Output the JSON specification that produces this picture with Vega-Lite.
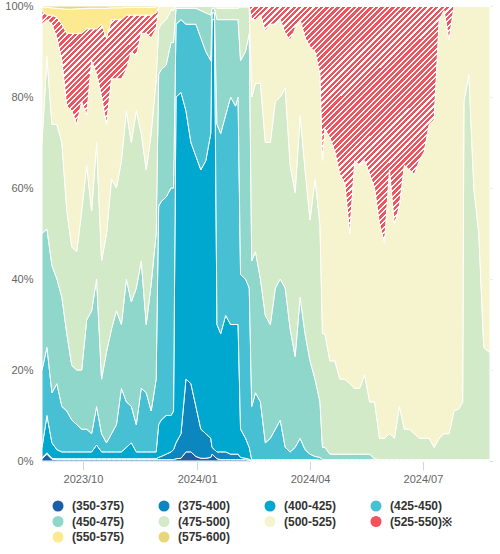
{
"$schema":"https://vega.github.io/schema/vega-lite/v6.json",
"width":450,"height":455,"autosize":"none",
"padding":{"left":42,"top":6,"right":8,"bottom":93},
"background":"white",
"config":{"view":{"stroke":null},"font":"Liberation Sans"},
"data":{"values":[
{"date":"2023-08-29","r350":0.5,"r375":0.2,"r400":2.3,"r425":17,"r450":30,"r475":20,"r500":26,"r525":3,"r550":0.8,"r575":0.2},
{"date":"2023-09-02","r350":1.5,"r375":0.3,"r400":8.2,"r425":15,"r450":26,"r475":38,"r500":8,"r525":1,"r550":1.7,"r575":0.3},
{"date":"2023-09-06","r350":0.4,"r375":0.2,"r400":3.4,"r425":11,"r450":28,"r475":31,"r500":22,"r525":2,"r550":1.6,"r575":0.4},
{"date":"2023-09-10","r350":0.3,"r375":0.2,"r400":2,"r425":14.5,"r450":23,"r475":34,"r500":19,"r525":4.5,"r550":2,"r575":0.5},
{"date":"2023-09-14","r350":0.3,"r375":0.2,"r400":1.5,"r425":10,"r450":24,"r475":34,"r500":18,"r525":8,"r550":3.4,"r575":0.6},
{"date":"2023-09-18","r350":0.3,"r375":0.2,"r400":1.5,"r425":9,"r450":17,"r475":27,"r500":23,"r525":16,"r550":5.3,"r575":0.7},
{"date":"2023-09-22","r350":0.3,"r375":0.2,"r400":1.5,"r425":7,"r450":12,"r475":26,"r500":30,"r525":17,"r550":5.3,"r575":0.7},
{"date":"2023-09-26","r350":0.3,"r375":0.2,"r400":1.5,"r425":6,"r450":12,"r475":26,"r500":28,"r525":20,"r550":5.4,"r575":0.6},
{"date":"2023-09-30","r350":0.3,"r375":0.2,"r400":1.5,"r425":5,"r450":13,"r475":35,"r500":24,"r525":15,"r550":5.4,"r575":0.6},
{"date":"2023-10-04","r350":0.3,"r375":0.2,"r400":1.5,"r425":5,"r450":24,"r475":34,"r500":11,"r525":19,"r550":4.5,"r575":0.5},
{"date":"2023-10-08","r350":0.3,"r375":0.2,"r400":1.5,"r425":4,"r450":27,"r475":22,"r500":33,"r525":7,"r550":4.5,"r575":0.5},
{"date":"2023-10-12","r350":0.3,"r375":0.2,"r400":3,"r425":8.5,"r450":28,"r475":30,"r500":15,"r525":10,"r550":4.5,"r575":0.5},
{"date":"2023-10-16","r350":0.3,"r375":0.2,"r400":1.5,"r425":4,"r450":12,"r475":26,"r500":36,"r525":16,"r550":3.5,"r575":0.5},
{"date":"2023-10-20","r350":0.3,"r375":0.2,"r400":1.5,"r425":2,"r450":20,"r475":26,"r500":24,"r525":19,"r550":6.5,"r575":0.5},
{"date":"2023-10-24","r350":0.3,"r375":0.2,"r400":1.5,"r425":4,"r450":23,"r475":33,"r500":22,"r525":13,"r550":2.6,"r575":0.4},
{"date":"2023-10-28","r350":0.3,"r375":0.2,"r400":1.5,"r425":6,"r450":25,"r475":27,"r500":24,"r525":13,"r550":2.6,"r575":0.4},
{"date":"2023-11-01","r350":0.3,"r375":0.2,"r400":1.5,"r425":14,"r450":14,"r475":36,"r500":18,"r525":13,"r550":2.6,"r575":0.4},
{"date":"2023-11-05","r350":0.3,"r375":0.2,"r400":2.5,"r425":10,"r450":27,"r475":37,"r500":9,"r525":12,"r550":1.7,"r575":0.3},
{"date":"2023-11-09","r350":0.3,"r375":0.2,"r400":3.5,"r425":8,"r450":23,"r475":35,"r500":20,"r525":8,"r550":1.7,"r575":0.3},
{"date":"2023-11-13","r350":0.3,"r375":0.2,"r400":1.5,"r425":6,"r450":30,"r475":39,"r500":12,"r525":9,"r550":1.7,"r575":0.3},
{"date":"2023-11-17","r350":0.3,"r375":0.2,"r400":1.5,"r425":14,"r450":28,"r475":28,"r500":22,"r525":4,"r550":1.7,"r575":0.3},
{"date":"2023-11-21","r350":0.3,"r375":0.2,"r400":1.5,"r425":13,"r450":15,"r475":34,"r500":30,"r525":4,"r550":1.7,"r575":0.3},
{"date":"2023-11-25","r350":0.3,"r375":0.2,"r400":1.5,"r425":9,"r450":28,"r475":33,"r500":21,"r525":5,"r550":1.7,"r575":0.3},
{"date":"2023-11-29","r350":0.3,"r375":0.2,"r400":1.5,"r425":16,"r450":32,"r475":34,"r500":11,"r525":3.5,"r550":1.3,"r575":0.2},
{"date":"2023-12-01","r350":0.3,"r375":0.5,"r400":7.2,"r425":48,"r450":29,"r475":10,"r500":4.5,"r525":0.2,"r550":0.3,"r575":0},
{"date":"2023-12-03","r350":0.3,"r375":0.7,"r400":8,"r425":48,"r450":29,"r475":10,"r500":4,"r525":0,"r550":0,"r575":0},
{"date":"2023-12-07","r350":0.3,"r375":1.2,"r400":8.5,"r425":48,"r450":29,"r475":10,"r500":3,"r525":0,"r550":0,"r575":0},
{"date":"2023-12-11","r350":0.3,"r375":1.7,"r400":8,"r425":50,"r450":32,"r475":7,"r500":1,"r525":0,"r550":0,"r575":0},
{"date":"2023-12-13","r350":0.3,"r375":2.2,"r400":8.5,"r425":49,"r450":32,"r475":7,"r500":1,"r525":0,"r550":0,"r575":0},
{"date":"2023-12-15","r350":0.5,"r375":3.5,"r400":76,"r425":16,"r450":3.5,"r475":0.5,"r500":0,"r525":0,"r550":0,"r575":0},
{"date":"2023-12-19","r350":0.6,"r375":5.4,"r400":75,"r425":16,"r450":2.5,"r475":0.5,"r500":0,"r525":0,"r550":0,"r575":0},
{"date":"2023-12-23","r350":2,"r375":16,"r400":59,"r425":19,"r450":3.5,"r475":0.5,"r500":0,"r525":0,"r550":0,"r575":0},
{"date":"2023-12-27","r350":2,"r375":15,"r400":53,"r425":26,"r450":3.5,"r475":0.5,"r500":0,"r525":0,"r550":0,"r575":0},
{"date":"2023-12-31","r350":1,"r375":11,"r400":55,"r425":29,"r450":3.5,"r475":0.5,"r500":0,"r525":0,"r550":0,"r575":0},
{"date":"2024-01-04","r350":0.6,"r375":6.4,"r400":57,"r425":29,"r450":6,"r475":1,"r500":0,"r525":0,"r550":0,"r575":0},
{"date":"2024-01-08","r350":0.6,"r375":5.4,"r400":60,"r425":24,"r450":8.5,"r475":1.5,"r500":0,"r525":0,"r550":0,"r575":0},
{"date":"2024-01-12","r350":0.8,"r375":4.2,"r400":67,"r425":16,"r450":10,"r475":2,"r500":0,"r525":0,"r550":0,"r575":0},
{"date":"2024-01-13","r350":1.5,"r375":1.5,"r400":94,"r425":1.5,"r450":1,"r475":0.5,"r500":0,"r525":0,"r550":0,"r575":0},
{"date":"2024-01-15","r350":1,"r375":1.5,"r400":94.5,"r425":1.5,"r450":1,"r475":0.5,"r500":0,"r525":0,"r550":0,"r575":0},
{"date":"2024-01-17","r350":0.5,"r375":1.5,"r400":28,"r425":44,"r450":23,"r475":2.5,"r500":0.5,"r525":0,"r550":0,"r575":0},
{"date":"2024-01-20","r350":0.3,"r375":1.7,"r400":26,"r425":44,"r450":25,"r475":2.5,"r500":0.5,"r525":0,"r550":0,"r575":0},
{"date":"2024-01-24","r350":0.3,"r375":1.7,"r400":30,"r425":44,"r450":21,"r475":2.5,"r500":0.5,"r525":0,"r550":0,"r575":0},
{"date":"2024-01-28","r350":0.3,"r375":1.2,"r400":28.5,"r425":50,"r450":17,"r475":2.5,"r500":0.5,"r525":0,"r550":0,"r575":0},
{"date":"2024-02-01","r350":0.3,"r375":1.2,"r400":28.5,"r425":48,"r450":19,"r475":2.5,"r500":0.5,"r525":0,"r550":0,"r575":0},
{"date":"2024-02-03","r350":0.3,"r375":1.2,"r400":28.5,"r425":50,"r450":17,"r475":2.5,"r500":0.5,"r525":0,"r550":0,"r575":0},
{"date":"2024-02-05","r350":0.3,"r375":0.5,"r400":6.2,"r425":34,"r450":47,"r475":11.8,"r500":0.2,"r525":0,"r550":0,"r575":0},
{"date":"2024-02-09","r350":0.3,"r375":0.3,"r400":4.4,"r425":35,"r450":50,"r475":9.8,"r500":0.2,"r525":0,"r550":0,"r575":0},
{"date":"2024-02-12","r350":0.2,"r375":0.2,"r400":2.6,"r425":35,"r450":56,"r475":5.8,"r500":0.2,"r525":0,"r550":0,"r575":0},
{"date":"2024-02-14","r350":0,"r375":0.1,"r400":0.2,"r425":11.7,"r450":32,"r475":36,"r500":17,"r525":3,"r550":0,"r575":0},
{"date":"2024-02-17","r350":0,"r375":0.1,"r400":0.2,"r425":14.7,"r450":31,"r475":37,"r500":14,"r525":3,"r550":0,"r575":0},
{"date":"2024-02-21","r350":0,"r375":0.1,"r400":0.2,"r425":12.7,"r450":27,"r475":43,"r500":15,"r525":2,"r550":0,"r575":0},
{"date":"2024-02-25","r350":0,"r375":0.1,"r400":0.2,"r425":3.7,"r450":28,"r475":38,"r500":24.5,"r525":5.5,"r550":0,"r575":0},
{"date":"2024-02-29","r350":0,"r375":0.1,"r400":0.2,"r425":4.7,"r450":25,"r475":40,"r500":26,"r525":4,"r550":0,"r575":0},
{"date":"2024-03-04","r350":0,"r375":0.1,"r400":0.2,"r425":6.7,"r450":31,"r475":41,"r500":17,"r525":4,"r550":0,"r575":0},
{"date":"2024-03-08","r350":0,"r375":0.1,"r400":0.2,"r425":8.7,"r450":31,"r475":40,"r500":17,"r525":3,"r550":0,"r575":0},
{"date":"2024-03-12","r350":0,"r375":0.1,"r400":0.2,"r425":2.7,"r450":35,"r475":44,"r500":12,"r525":6,"r550":0,"r575":0},
{"date":"2024-03-16","r350":0,"r375":0.1,"r400":0.2,"r425":1.7,"r450":27,"r475":36,"r500":27.5,"r525":7.5,"r550":0,"r575":0},
{"date":"2024-03-20","r350":0,"r375":0.1,"r400":0.2,"r425":2.7,"r450":20,"r475":36,"r500":36,"r525":5,"r550":0,"r575":0},
{"date":"2024-03-24","r350":0,"r375":0.1,"r400":0.2,"r425":4.7,"r450":31,"r475":40,"r500":21,"r525":3,"r550":0,"r575":0},
{"date":"2024-03-28","r350":0,"r375":0.1,"r400":0.2,"r425":2.2,"r450":25.5,"r475":36,"r500":29,"r525":7,"r550":0,"r575":0},
{"date":"2024-04-01","r350":0,"r375":0.1,"r400":0.2,"r425":1.2,"r450":20.5,"r475":31,"r500":38,"r525":9,"r550":0,"r575":0},
{"date":"2024-04-05","r350":0,"r375":0.1,"r400":0.2,"r425":0.7,"r450":17,"r475":44,"r500":28,"r525":10,"r550":0,"r575":0},
{"date":"2024-04-09","r350":0,"r375":0,"r400":0.2,"r425":0.6,"r450":12.2,"r475":39,"r500":33,"r525":15,"r550":0,"r575":0},
{"date":"2024-04-11","r350":0,"r375":0,"r400":0.1,"r425":0.2,"r450":2.7,"r475":25,"r500":38,"r525":34,"r550":0,"r575":0},
{"date":"2024-04-13","r350":0,"r375":0,"r400":0.1,"r425":0.2,"r450":2.7,"r475":25,"r500":45,"r525":27,"r550":0,"r575":0},
{"date":"2024-04-17","r350":0,"r375":0,"r400":0.1,"r425":0.2,"r450":1.2,"r475":20.5,"r500":49,"r525":29,"r550":0,"r575":0},
{"date":"2024-04-21","r350":0,"r375":0,"r400":0.1,"r425":0.2,"r450":1.2,"r475":20.5,"r500":46,"r525":32,"r550":0,"r575":0},
{"date":"2024-04-25","r350":0,"r375":0,"r400":0.1,"r425":0.2,"r450":1.2,"r475":16.5,"r500":45,"r525":37,"r550":0,"r575":0},
{"date":"2024-04-29","r350":0,"r375":0,"r400":0.1,"r425":0.2,"r450":1.2,"r475":16.5,"r500":43,"r525":39,"r550":0,"r575":0},
{"date":"2024-05-03","r350":0,"r375":0,"r400":0.1,"r425":0.2,"r450":1.2,"r475":15.5,"r500":33,"r525":50,"r550":0,"r575":0},
{"date":"2024-05-07","r350":0,"r375":0,"r400":0.1,"r425":0.2,"r450":1.2,"r475":14.5,"r500":50,"r525":34,"r550":0,"r575":0},
{"date":"2024-05-11","r350":0,"r375":0,"r400":0.1,"r425":0.2,"r450":1.2,"r475":14.5,"r500":49,"r525":35,"r550":0,"r575":0},
{"date":"2024-05-15","r350":0,"r375":0,"r400":0.1,"r425":0.2,"r450":1.2,"r475":17.5,"r500":47,"r525":34,"r550":0,"r575":0},
{"date":"2024-05-19","r350":0,"r375":0,"r400":0.1,"r425":0.2,"r450":1.2,"r475":11.5,"r500":50,"r525":37,"r550":0,"r575":0},
{"date":"2024-05-23","r350":0,"r375":0,"r400":0.1,"r425":0.2,"r450":0.2,"r475":12.5,"r500":47,"r525":40,"r550":0,"r575":0},
{"date":"2024-05-27","r350":0,"r375":0,"r400":0.1,"r425":0.2,"r450":0,"r475":4.7,"r500":47,"r525":48,"r550":0,"r575":0},
{"date":"2024-05-31","r350":0,"r375":0,"r400":0.1,"r425":0.2,"r450":0,"r475":4.7,"r500":43,"r525":52,"r550":0,"r575":0},
{"date":"2024-06-04","r350":0,"r375":0,"r400":0.1,"r425":0.2,"r450":0,"r475":5.7,"r500":58,"r525":36,"r550":0,"r575":0},
{"date":"2024-06-08","r350":0,"r375":0,"r400":0.1,"r425":0.2,"r450":0,"r475":4.7,"r500":47,"r525":48,"r550":0,"r575":0},
{"date":"2024-06-12","r350":0,"r375":0,"r400":0.1,"r425":0.2,"r450":0,"r475":11.7,"r500":44,"r525":44,"r550":0,"r575":0},
{"date":"2024-06-16","r350":0,"r375":0,"r400":0.1,"r425":0.2,"r450":0,"r475":6.7,"r500":58,"r525":35,"r550":0,"r575":0},
{"date":"2024-06-20","r350":0,"r375":0,"r400":0.1,"r425":0.2,"r450":0,"r475":6.7,"r500":57,"r525":36,"r550":0,"r575":0},
{"date":"2024-06-24","r350":0,"r375":0,"r400":0.1,"r425":0.2,"r450":0,"r475":5.7,"r500":57,"r525":37,"r550":0,"r575":0},
{"date":"2024-06-28","r350":0,"r375":0,"r400":0.1,"r425":0.2,"r450":0,"r475":4.7,"r500":61,"r525":34,"r550":0,"r575":0},
{"date":"2024-07-02","r350":0,"r375":0,"r400":0.1,"r425":0.2,"r450":0,"r475":4.7,"r500":63,"r525":32,"r550":0,"r575":0},
{"date":"2024-07-06","r350":0,"r375":0,"r400":0.1,"r425":0.2,"r450":0,"r475":4.7,"r500":69,"r525":26,"r550":0,"r575":0},
{"date":"2024-07-10","r350":0,"r375":0,"r400":0.1,"r425":0.2,"r450":0,"r475":2.7,"r500":72,"r525":25,"r550":0,"r575":0},
{"date":"2024-07-14","r350":0,"r375":0,"r400":0.1,"r425":0.2,"r450":0,"r475":4.7,"r500":92,"r525":3,"r550":0,"r575":0},
{"date":"2024-07-18","r350":0,"r375":0,"r400":0.1,"r425":0.2,"r450":0,"r475":5.7,"r500":93,"r525":1,"r550":0,"r575":0},
{"date":"2024-07-22","r350":0,"r375":0,"r400":0.1,"r425":0.2,"r450":0,"r475":5.7,"r500":86.5,"r525":7.5,"r550":0,"r575":0},
{"date":"2024-07-26","r350":0,"r375":0,"r400":0.1,"r425":0.2,"r450":0,"r475":10.7,"r500":89,"r525":0,"r550":0,"r575":0},
{"date":"2024-07-30","r350":0,"r375":0,"r400":0.1,"r425":0.2,"r450":0,"r475":11.2,"r500":88.5,"r525":0,"r550":0,"r575":0},
{"date":"2024-08-02","r350":0,"r375":0,"r400":0.1,"r425":0.2,"r450":0,"r475":12.7,"r500":87,"r525":0,"r550":0,"r575":0},
{"date":"2024-08-03","r350":0,"r375":0,"r400":0.1,"r425":0.2,"r450":0,"r475":78.7,"r500":21,"r525":0,"r550":0,"r575":0},
{"date":"2024-08-07","r350":0,"r375":0,"r400":0.1,"r425":0.2,"r450":0,"r475":84.7,"r500":15,"r525":0,"r550":0,"r575":0},
{"date":"2024-08-11","r350":0,"r375":0,"r400":0.1,"r425":0.2,"r450":0,"r475":59.7,"r500":40,"r525":0,"r550":0,"r575":0},
{"date":"2024-08-15","r350":0,"r375":0,"r400":0.1,"r425":0.2,"r450":0,"r475":49.7,"r500":50,"r525":0,"r550":0,"r575":0},
{"date":"2024-08-19","r350":0,"r375":0,"r400":0.1,"r425":0.2,"r450":0,"r475":24.7,"r500":75,"r525":0,"r550":0,"r575":0},
{"date":"2024-08-23","r350":0,"r375":0,"r400":0.1,"r425":0.2,"r450":0,"r475":23.7,"r500":76,"r525":0,"r550":0,"r575":0},
{"date":"2024-08-24","r350":0,"r375":0,"r400":0.1,"r425":0.2,"r450":0,"r475":23.7,"r500":76,"r525":0,"r550":0,"r575":0}
]},
"transform":[{"fold":["r350","r375","r400","r425","r450","r475","r500","r525","r550","r575"],"as":["range","pct"]}],
"mark":{"type":"area","stroke":"white","strokeWidth":1,"strokeJoin":"round"},
"encoding":{
"x":{"field":"date","type":"temporal",
 "scale":{"type":"utc","domain":[{"year":2023,"month":8,"date":29,"utc":true},{"year":2024,"month":8,"date":25,"hours":15,"utc":true}]},
 "axis":{"values":[{"year":2023,"month":10,"date":1,"utc":true},{"year":2024,"month":1,"date":1,"utc":true},{"year":2024,"month":4,"date":1,"utc":true},{"year":2024,"month":7,"date":1,"utc":true}],
 "labelExpr":"utcFormat(datum.value, '%Y/%m')","title":null,"grid":false,"labelColor":"#666666","labelFontSize":11,"domainColor":"#ccd6eb","tickColor":"#ccd6eb","tickSize":9,"labelPadding":3,"labelFlush":false,"labelOverlap":false}},
"y":{"field":"pct","type":"quantitative","stack":"normalize","scale":{"domain":[0,1]},
 "axis":{"values":[0,0.2,0.4,0.6,0.8,1],"format":".0%","title":null,"grid":true,"gridColor":"#e6e6e6","domain":false,"ticks":false,"labelPadding":9,"labelColor":"#666666","labelFontSize":11}},
"order":{"field":"range","type":"ordinal","sort":"ascending"},
"fill":{
 "condition":{"test":"datum.range === 'r525'","value":{"gradient":"linear","x1":0,"y1":0,"x2":1.195,"y2":0.632,"stops":[
{"offset":0,"color":"#f2525c"},{"offset":0.0048,"color":"#f2525c"},{"offset":0.0048,"color":"#fff"},{"offset":0.008,"color":"#fff"},
{"offset":0.008,"color":"#f2525c"},{"offset":0.0128,"color":"#f2525c"},{"offset":0.0128,"color":"#fff"},{"offset":0.016,"color":"#fff"},
{"offset":0.016,"color":"#f2525c"},{"offset":0.0208,"color":"#f2525c"},{"offset":0.0208,"color":"#fff"},{"offset":0.024,"color":"#fff"},
{"offset":0.024,"color":"#f2525c"},{"offset":0.0288,"color":"#f2525c"},{"offset":0.0288,"color":"#fff"},{"offset":0.032,"color":"#fff"},
{"offset":0.032,"color":"#f2525c"},{"offset":0.0368,"color":"#f2525c"},{"offset":0.0368,"color":"#fff"},{"offset":0.04,"color":"#fff"},
{"offset":0.04,"color":"#f2525c"},{"offset":0.0448,"color":"#f2525c"},{"offset":0.0448,"color":"#fff"},{"offset":0.048,"color":"#fff"},
{"offset":0.048,"color":"#f2525c"},{"offset":0.0528,"color":"#f2525c"},{"offset":0.0528,"color":"#fff"},{"offset":0.056,"color":"#fff"},
{"offset":0.056,"color":"#f2525c"},{"offset":0.0608,"color":"#f2525c"},{"offset":0.0608,"color":"#fff"},{"offset":0.064,"color":"#fff"},
{"offset":0.064,"color":"#f2525c"},{"offset":0.0688,"color":"#f2525c"},{"offset":0.0688,"color":"#fff"},{"offset":0.072,"color":"#fff"},
{"offset":0.072,"color":"#f2525c"},{"offset":0.0768,"color":"#f2525c"},{"offset":0.0768,"color":"#fff"},{"offset":0.08,"color":"#fff"},
{"offset":0.08,"color":"#f2525c"},{"offset":0.0848,"color":"#f2525c"},{"offset":0.0848,"color":"#fff"},{"offset":0.088,"color":"#fff"},
{"offset":0.088,"color":"#f2525c"},{"offset":0.0928,"color":"#f2525c"},{"offset":0.0928,"color":"#fff"},{"offset":0.096,"color":"#fff"},
{"offset":0.096,"color":"#f2525c"},{"offset":0.1008,"color":"#f2525c"},{"offset":0.1008,"color":"#fff"},{"offset":0.104,"color":"#fff"},
{"offset":0.104,"color":"#f2525c"},{"offset":0.1088,"color":"#f2525c"},{"offset":0.1088,"color":"#fff"},{"offset":0.112,"color":"#fff"},
{"offset":0.112,"color":"#f2525c"},{"offset":0.1168,"color":"#f2525c"},{"offset":0.1168,"color":"#fff"},{"offset":0.12,"color":"#fff"},
{"offset":0.12,"color":"#f2525c"},{"offset":0.1248,"color":"#f2525c"},{"offset":0.1248,"color":"#fff"},{"offset":0.128,"color":"#fff"},
{"offset":0.128,"color":"#f2525c"},{"offset":0.1328,"color":"#f2525c"},{"offset":0.1328,"color":"#fff"},{"offset":0.136,"color":"#fff"},
{"offset":0.136,"color":"#f2525c"},{"offset":0.1408,"color":"#f2525c"},{"offset":0.1408,"color":"#fff"},{"offset":0.144,"color":"#fff"},
{"offset":0.144,"color":"#f2525c"},{"offset":0.1488,"color":"#f2525c"},{"offset":0.1488,"color":"#fff"},{"offset":0.152,"color":"#fff"},
{"offset":0.152,"color":"#f2525c"},{"offset":0.1568,"color":"#f2525c"},{"offset":0.1568,"color":"#fff"},{"offset":0.16,"color":"#fff"},
{"offset":0.16,"color":"#f2525c"},{"offset":0.1648,"color":"#f2525c"},{"offset":0.1648,"color":"#fff"},{"offset":0.168,"color":"#fff"},
{"offset":0.168,"color":"#f2525c"},{"offset":0.1728,"color":"#f2525c"},{"offset":0.1728,"color":"#fff"},{"offset":0.176,"color":"#fff"},
{"offset":0.176,"color":"#f2525c"},{"offset":0.1808,"color":"#f2525c"},{"offset":0.1808,"color":"#fff"},{"offset":0.184,"color":"#fff"},
{"offset":0.184,"color":"#f2525c"},{"offset":0.1888,"color":"#f2525c"},{"offset":0.1888,"color":"#fff"},{"offset":0.192,"color":"#fff"},
{"offset":0.192,"color":"#f2525c"},{"offset":0.1968,"color":"#f2525c"},{"offset":0.1968,"color":"#fff"},{"offset":0.2,"color":"#fff"},
{"offset":0.2,"color":"#f2525c"},{"offset":0.2048,"color":"#f2525c"},{"offset":0.2048,"color":"#fff"},{"offset":0.208,"color":"#fff"},
{"offset":0.208,"color":"#f2525c"},{"offset":0.2128,"color":"#f2525c"},{"offset":0.2128,"color":"#fff"},{"offset":0.216,"color":"#fff"},
{"offset":0.216,"color":"#f2525c"},{"offset":0.2208,"color":"#f2525c"},{"offset":0.2208,"color":"#fff"},{"offset":0.224,"color":"#fff"},
{"offset":0.224,"color":"#f2525c"},{"offset":0.2288,"color":"#f2525c"},{"offset":0.2288,"color":"#fff"},{"offset":0.232,"color":"#fff"},
{"offset":0.232,"color":"#f2525c"},{"offset":0.2368,"color":"#f2525c"},{"offset":0.2368,"color":"#fff"},{"offset":0.24,"color":"#fff"},
{"offset":0.24,"color":"#f2525c"},{"offset":0.2448,"color":"#f2525c"},{"offset":0.2448,"color":"#fff"},{"offset":0.248,"color":"#fff"},
{"offset":0.248,"color":"#f2525c"},{"offset":0.2528,"color":"#f2525c"},{"offset":0.2528,"color":"#fff"},{"offset":0.256,"color":"#fff"},
{"offset":0.256,"color":"#f2525c"},{"offset":0.2608,"color":"#f2525c"},{"offset":0.2608,"color":"#fff"},{"offset":0.264,"color":"#fff"},
{"offset":0.264,"color":"#f2525c"},{"offset":0.2688,"color":"#f2525c"},{"offset":0.2688,"color":"#fff"},{"offset":0.272,"color":"#fff"},
{"offset":0.272,"color":"#f2525c"},{"offset":0.2768,"color":"#f2525c"},{"offset":0.2768,"color":"#fff"},{"offset":0.28,"color":"#fff"},
{"offset":0.28,"color":"#f2525c"},{"offset":0.2848,"color":"#f2525c"},{"offset":0.2848,"color":"#fff"},{"offset":0.288,"color":"#fff"},
{"offset":0.288,"color":"#f2525c"},{"offset":0.2928,"color":"#f2525c"},{"offset":0.2928,"color":"#fff"},{"offset":0.296,"color":"#fff"},
{"offset":0.296,"color":"#f2525c"},{"offset":0.3008,"color":"#f2525c"},{"offset":0.3008,"color":"#fff"},{"offset":0.304,"color":"#fff"},
{"offset":0.304,"color":"#f2525c"},{"offset":0.3088,"color":"#f2525c"},{"offset":0.3088,"color":"#fff"},{"offset":0.312,"color":"#fff"},
{"offset":0.312,"color":"#f2525c"},{"offset":0.3168,"color":"#f2525c"},{"offset":0.3168,"color":"#fff"},{"offset":0.32,"color":"#fff"},
{"offset":0.32,"color":"#f2525c"},{"offset":0.3248,"color":"#f2525c"},{"offset":0.3248,"color":"#fff"},{"offset":0.328,"color":"#fff"},
{"offset":0.328,"color":"#f2525c"},{"offset":0.3328,"color":"#f2525c"},{"offset":0.3328,"color":"#fff"},{"offset":0.336,"color":"#fff"},
{"offset":0.336,"color":"#f2525c"},{"offset":0.3408,"color":"#f2525c"},{"offset":0.3408,"color":"#fff"},{"offset":0.344,"color":"#fff"},
{"offset":0.344,"color":"#f2525c"},{"offset":0.3488,"color":"#f2525c"},{"offset":0.3488,"color":"#fff"},{"offset":0.352,"color":"#fff"},
{"offset":0.352,"color":"#f2525c"},{"offset":0.3568,"color":"#f2525c"},{"offset":0.3568,"color":"#fff"},{"offset":0.36,"color":"#fff"},
{"offset":0.36,"color":"#f2525c"},{"offset":0.3648,"color":"#f2525c"},{"offset":0.3648,"color":"#fff"},{"offset":0.368,"color":"#fff"},
{"offset":0.368,"color":"#f2525c"},{"offset":0.3728,"color":"#f2525c"},{"offset":0.3728,"color":"#fff"},{"offset":0.376,"color":"#fff"},
{"offset":0.376,"color":"#f2525c"},{"offset":0.3808,"color":"#f2525c"},{"offset":0.3808,"color":"#fff"},{"offset":0.384,"color":"#fff"},
{"offset":0.384,"color":"#f2525c"},{"offset":0.3888,"color":"#f2525c"},{"offset":0.3888,"color":"#fff"},{"offset":0.392,"color":"#fff"},
{"offset":0.392,"color":"#f2525c"},{"offset":0.3968,"color":"#f2525c"},{"offset":0.3968,"color":"#fff"},{"offset":0.4,"color":"#fff"},
{"offset":0.4,"color":"#f2525c"},{"offset":0.4048,"color":"#f2525c"},{"offset":0.4048,"color":"#fff"},{"offset":0.408,"color":"#fff"},
{"offset":0.408,"color":"#f2525c"},{"offset":0.4128,"color":"#f2525c"},{"offset":0.4128,"color":"#fff"},{"offset":0.416,"color":"#fff"},
{"offset":0.416,"color":"#f2525c"},{"offset":0.4208,"color":"#f2525c"},{"offset":0.4208,"color":"#fff"},{"offset":0.424,"color":"#fff"},
{"offset":0.424,"color":"#f2525c"},{"offset":0.4288,"color":"#f2525c"},{"offset":0.4288,"color":"#fff"},{"offset":0.432,"color":"#fff"},
{"offset":0.432,"color":"#f2525c"},{"offset":0.4368,"color":"#f2525c"},{"offset":0.4368,"color":"#fff"},{"offset":0.44,"color":"#fff"},
{"offset":0.44,"color":"#f2525c"},{"offset":0.4448,"color":"#f2525c"},{"offset":0.4448,"color":"#fff"},{"offset":0.448,"color":"#fff"},
{"offset":0.448,"color":"#f2525c"},{"offset":0.4528,"color":"#f2525c"},{"offset":0.4528,"color":"#fff"},{"offset":0.456,"color":"#fff"},
{"offset":0.456,"color":"#f2525c"},{"offset":0.4608,"color":"#f2525c"},{"offset":0.4608,"color":"#fff"},{"offset":0.464,"color":"#fff"},
{"offset":0.464,"color":"#f2525c"},{"offset":0.4688,"color":"#f2525c"},{"offset":0.4688,"color":"#fff"},{"offset":0.472,"color":"#fff"},
{"offset":0.472,"color":"#f2525c"},{"offset":0.4768,"color":"#f2525c"},{"offset":0.4768,"color":"#fff"},{"offset":0.48,"color":"#fff"},
{"offset":0.48,"color":"#f2525c"},{"offset":0.4848,"color":"#f2525c"},{"offset":0.4848,"color":"#fff"},{"offset":0.488,"color":"#fff"},
{"offset":0.488,"color":"#f2525c"},{"offset":0.4928,"color":"#f2525c"},{"offset":0.4928,"color":"#fff"},{"offset":0.496,"color":"#fff"},
{"offset":0.496,"color":"#f2525c"},{"offset":0.5008,"color":"#f2525c"},{"offset":0.5008,"color":"#fff"},{"offset":0.504,"color":"#fff"},
{"offset":0.504,"color":"#f2525c"},{"offset":0.5088,"color":"#f2525c"},{"offset":0.5088,"color":"#fff"},{"offset":0.512,"color":"#fff"},
{"offset":0.512,"color":"#f2525c"},{"offset":0.5168,"color":"#f2525c"},{"offset":0.5168,"color":"#fff"},{"offset":0.52,"color":"#fff"},
{"offset":0.52,"color":"#f2525c"},{"offset":0.5248,"color":"#f2525c"},{"offset":0.5248,"color":"#fff"},{"offset":0.528,"color":"#fff"},
{"offset":0.528,"color":"#f2525c"},{"offset":0.5328,"color":"#f2525c"},{"offset":0.5328,"color":"#fff"},{"offset":0.536,"color":"#fff"},
{"offset":0.536,"color":"#f2525c"},{"offset":0.5408,"color":"#f2525c"},{"offset":0.5408,"color":"#fff"},{"offset":0.544,"color":"#fff"},
{"offset":0.544,"color":"#f2525c"},{"offset":0.5488,"color":"#f2525c"},{"offset":0.5488,"color":"#fff"},{"offset":0.552,"color":"#fff"},
{"offset":0.552,"color":"#f2525c"},{"offset":0.5568,"color":"#f2525c"},{"offset":0.5568,"color":"#fff"},{"offset":0.56,"color":"#fff"},
{"offset":0.56,"color":"#f2525c"},{"offset":0.5648,"color":"#f2525c"},{"offset":0.5648,"color":"#fff"},{"offset":0.568,"color":"#fff"},
{"offset":0.568,"color":"#f2525c"},{"offset":0.5728,"color":"#f2525c"},{"offset":0.5728,"color":"#fff"},{"offset":0.576,"color":"#fff"},
{"offset":0.576,"color":"#f2525c"},{"offset":0.5808,"color":"#f2525c"},{"offset":0.5808,"color":"#fff"},{"offset":0.584,"color":"#fff"},
{"offset":0.584,"color":"#f2525c"},{"offset":0.5888,"color":"#f2525c"},{"offset":0.5888,"color":"#fff"},{"offset":0.592,"color":"#fff"},
{"offset":0.592,"color":"#f2525c"},{"offset":0.5968,"color":"#f2525c"},{"offset":0.5968,"color":"#fff"},{"offset":0.6,"color":"#fff"},
{"offset":0.6,"color":"#f2525c"},{"offset":0.6048,"color":"#f2525c"},{"offset":0.6048,"color":"#fff"},{"offset":0.608,"color":"#fff"},
{"offset":0.608,"color":"#f2525c"},{"offset":0.6128,"color":"#f2525c"},{"offset":0.6128,"color":"#fff"},{"offset":0.616,"color":"#fff"},
{"offset":0.616,"color":"#f2525c"},{"offset":0.6208,"color":"#f2525c"},{"offset":0.6208,"color":"#fff"},{"offset":0.624,"color":"#fff"},
{"offset":0.624,"color":"#f2525c"},{"offset":0.6288,"color":"#f2525c"},{"offset":0.6288,"color":"#fff"},{"offset":0.632,"color":"#fff"},
{"offset":0.632,"color":"#f2525c"},{"offset":0.6368,"color":"#f2525c"},{"offset":0.6368,"color":"#fff"},{"offset":0.64,"color":"#fff"},
{"offset":0.64,"color":"#f2525c"},{"offset":0.6448,"color":"#f2525c"},{"offset":0.6448,"color":"#fff"},{"offset":0.648,"color":"#fff"},
{"offset":0.648,"color":"#f2525c"},{"offset":0.6528,"color":"#f2525c"},{"offset":0.6528,"color":"#fff"},{"offset":0.656,"color":"#fff"},
{"offset":0.656,"color":"#f2525c"},{"offset":0.6608,"color":"#f2525c"},{"offset":0.6608,"color":"#fff"},{"offset":0.664,"color":"#fff"},
{"offset":0.664,"color":"#f2525c"},{"offset":0.6688,"color":"#f2525c"},{"offset":0.6688,"color":"#fff"},{"offset":0.672,"color":"#fff"},
{"offset":0.672,"color":"#f2525c"},{"offset":0.6768,"color":"#f2525c"},{"offset":0.6768,"color":"#fff"},{"offset":0.68,"color":"#fff"},
{"offset":0.68,"color":"#f2525c"},{"offset":0.6848,"color":"#f2525c"},{"offset":0.6848,"color":"#fff"},{"offset":0.688,"color":"#fff"},
{"offset":0.688,"color":"#f2525c"},{"offset":0.6928,"color":"#f2525c"},{"offset":0.6928,"color":"#fff"},{"offset":0.696,"color":"#fff"},
{"offset":0.696,"color":"#f2525c"},{"offset":0.7008,"color":"#f2525c"},{"offset":0.7008,"color":"#fff"},{"offset":0.704,"color":"#fff"},
{"offset":0.704,"color":"#f2525c"},{"offset":0.7088,"color":"#f2525c"},{"offset":0.7088,"color":"#fff"},{"offset":0.712,"color":"#fff"},
{"offset":0.712,"color":"#f2525c"},{"offset":0.7168,"color":"#f2525c"},{"offset":0.7168,"color":"#fff"},{"offset":0.72,"color":"#fff"},
{"offset":0.72,"color":"#f2525c"},{"offset":0.7248,"color":"#f2525c"},{"offset":0.7248,"color":"#fff"},{"offset":0.728,"color":"#fff"},
{"offset":0.728,"color":"#f2525c"},{"offset":0.7328,"color":"#f2525c"},{"offset":0.7328,"color":"#fff"},{"offset":0.736,"color":"#fff"},
{"offset":0.736,"color":"#f2525c"},{"offset":0.7408,"color":"#f2525c"},{"offset":0.7408,"color":"#fff"},{"offset":0.744,"color":"#fff"},
{"offset":0.744,"color":"#f2525c"},{"offset":0.7488,"color":"#f2525c"},{"offset":0.7488,"color":"#fff"},{"offset":0.752,"color":"#fff"},
{"offset":0.752,"color":"#f2525c"},{"offset":0.7568,"color":"#f2525c"},{"offset":0.7568,"color":"#fff"},{"offset":0.76,"color":"#fff"},
{"offset":0.76,"color":"#f2525c"},{"offset":0.7648,"color":"#f2525c"},{"offset":0.7648,"color":"#fff"},{"offset":0.768,"color":"#fff"},
{"offset":0.768,"color":"#f2525c"},{"offset":0.7728,"color":"#f2525c"},{"offset":0.7728,"color":"#fff"},{"offset":0.776,"color":"#fff"},
{"offset":0.776,"color":"#f2525c"},{"offset":0.7808,"color":"#f2525c"},{"offset":0.7808,"color":"#fff"},{"offset":0.784,"color":"#fff"},
{"offset":0.784,"color":"#f2525c"},{"offset":0.7888,"color":"#f2525c"},{"offset":0.7888,"color":"#fff"},{"offset":0.792,"color":"#fff"},
{"offset":0.792,"color":"#f2525c"},{"offset":0.7968,"color":"#f2525c"},{"offset":0.7968,"color":"#fff"},{"offset":0.8,"color":"#fff"},
{"offset":0.8,"color":"#f2525c"},{"offset":0.8048,"color":"#f2525c"},{"offset":0.8048,"color":"#fff"},{"offset":0.808,"color":"#fff"},
{"offset":0.808,"color":"#f2525c"},{"offset":0.8128,"color":"#f2525c"},{"offset":0.8128,"color":"#fff"},{"offset":0.816,"color":"#fff"},
{"offset":0.816,"color":"#f2525c"},{"offset":0.8208,"color":"#f2525c"},{"offset":0.8208,"color":"#fff"},{"offset":0.824,"color":"#fff"},
{"offset":0.824,"color":"#f2525c"},{"offset":0.8288,"color":"#f2525c"},{"offset":0.8288,"color":"#fff"},{"offset":0.832,"color":"#fff"},
{"offset":0.832,"color":"#f2525c"},{"offset":0.8368,"color":"#f2525c"},{"offset":0.8368,"color":"#fff"},{"offset":0.84,"color":"#fff"},
{"offset":0.84,"color":"#f2525c"},{"offset":0.8448,"color":"#f2525c"},{"offset":0.8448,"color":"#fff"},{"offset":0.848,"color":"#fff"},
{"offset":0.848,"color":"#f2525c"},{"offset":0.8528,"color":"#f2525c"},{"offset":0.8528,"color":"#fff"},{"offset":0.856,"color":"#fff"},
{"offset":0.856,"color":"#f2525c"},{"offset":0.8608,"color":"#f2525c"},{"offset":0.8608,"color":"#fff"},{"offset":0.864,"color":"#fff"},
{"offset":0.864,"color":"#f2525c"},{"offset":0.8688,"color":"#f2525c"},{"offset":0.8688,"color":"#fff"},{"offset":0.872,"color":"#fff"},
{"offset":0.872,"color":"#f2525c"},{"offset":0.8768,"color":"#f2525c"},{"offset":0.8768,"color":"#fff"},{"offset":0.88,"color":"#fff"},
{"offset":0.88,"color":"#f2525c"},{"offset":0.8848,"color":"#f2525c"},{"offset":0.8848,"color":"#fff"},{"offset":0.888,"color":"#fff"},
{"offset":0.888,"color":"#f2525c"},{"offset":0.8928,"color":"#f2525c"},{"offset":0.8928,"color":"#fff"},{"offset":0.896,"color":"#fff"},
{"offset":0.896,"color":"#f2525c"},{"offset":0.9008,"color":"#f2525c"},{"offset":0.9008,"color":"#fff"},{"offset":0.904,"color":"#fff"},
{"offset":0.904,"color":"#f2525c"},{"offset":0.9088,"color":"#f2525c"},{"offset":0.9088,"color":"#fff"},{"offset":0.912,"color":"#fff"},
{"offset":0.912,"color":"#f2525c"},{"offset":0.9168,"color":"#f2525c"},{"offset":0.9168,"color":"#fff"},{"offset":0.92,"color":"#fff"},
{"offset":0.92,"color":"#f2525c"},{"offset":0.9248,"color":"#f2525c"},{"offset":0.9248,"color":"#fff"},{"offset":0.928,"color":"#fff"},
{"offset":0.928,"color":"#f2525c"},{"offset":0.9328,"color":"#f2525c"},{"offset":0.9328,"color":"#fff"},{"offset":0.936,"color":"#fff"},
{"offset":0.936,"color":"#f2525c"},{"offset":0.9408,"color":"#f2525c"},{"offset":0.9408,"color":"#fff"},{"offset":0.944,"color":"#fff"},
{"offset":0.944,"color":"#f2525c"},{"offset":0.9488,"color":"#f2525c"},{"offset":0.9488,"color":"#fff"},{"offset":0.952,"color":"#fff"},
{"offset":0.952,"color":"#f2525c"},{"offset":0.9568,"color":"#f2525c"},{"offset":0.9568,"color":"#fff"},{"offset":0.96,"color":"#fff"},
{"offset":0.96,"color":"#f2525c"},{"offset":0.9648,"color":"#f2525c"},{"offset":0.9648,"color":"#fff"},{"offset":0.968,"color":"#fff"},
{"offset":0.968,"color":"#f2525c"},{"offset":0.9728,"color":"#f2525c"},{"offset":0.9728,"color":"#fff"},{"offset":0.976,"color":"#fff"},
{"offset":0.976,"color":"#f2525c"},{"offset":0.9808,"color":"#f2525c"},{"offset":0.9808,"color":"#fff"},{"offset":0.984,"color":"#fff"},
{"offset":0.984,"color":"#f2525c"},{"offset":0.9888,"color":"#f2525c"},{"offset":0.9888,"color":"#fff"},{"offset":0.992,"color":"#fff"},
{"offset":0.992,"color":"#f2525c"},{"offset":0.9968,"color":"#f2525c"},{"offset":0.9968,"color":"#fff"},{"offset":1,"color":"#fff"}
]}},
 "field":"range","type":"nominal",
 "scale":{"domain":["r350","r375","r400","r425","r450","r475","r500","r525","r550","r575"],
  "range":["#1c5fa6","#0b86bf","#00a8d0","#46c0d2","#8fd6cb","#d3eac8","#f6f3cf","#f2525c","#fde98f","#e8d77a"]},
 "legend":{"orient":"none","legendX":10,"legendY":494,"direction":"horizontal","columns":4,"title":null,
  "symbolType":"circle","symbolSize":121,"symbolStrokeWidth":0,"symbolOpacity":1,
  "labelFontSize":12,"labelFontWeight":"bold","labelColor":"#333333","labelFont":"Liberation Sans",
  "labelOffset":8,"columnPadding":33,"rowPadding":3.5,"padding":0,
  "labelExpr":"'(' + slice(datum.label,1) + '-' + (toNumber(slice(datum.label,1)) + 25) + ')' + (datum.label == 'r525' ? '※' : '')"}}
}
}
